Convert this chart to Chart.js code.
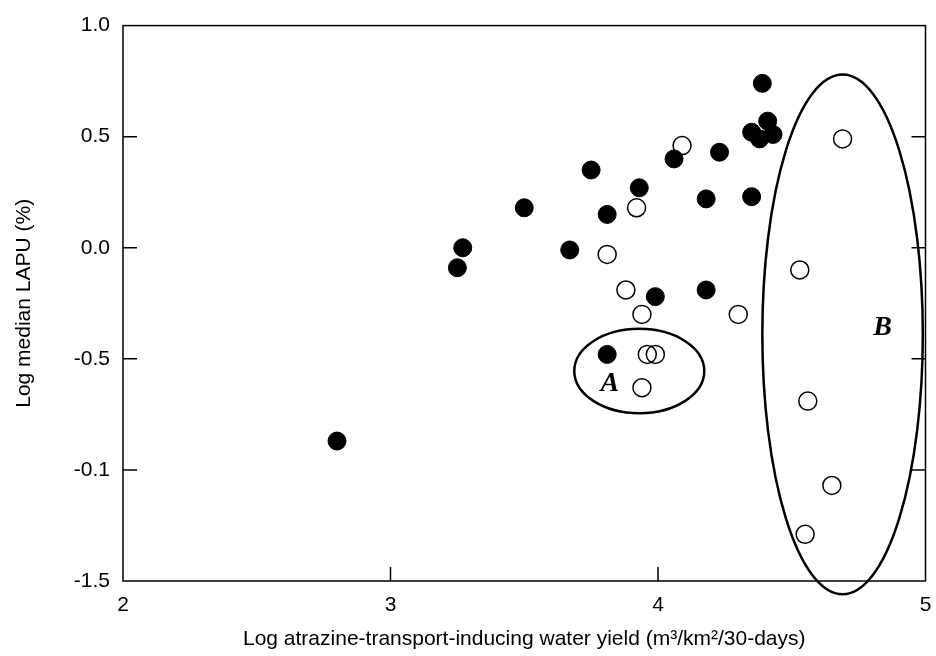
<!DOCTYPE html>
<html>
<head>
<meta charset="utf-8">
<script src="https://cdn.jsdelivr.net/npm/chart.js@4.4.1/dist/chart.umd.min.js"></script>
<style>
  html, body { margin: 0; padding: 0; background: #fff; }
  #wrap { width: 936px; height: 656px; }
</style>
</head>
<body>
<div id="wrap"><canvas id="myChart" width="936" height="656"></canvas></div>
<script>
// valores
var xTicks = [2, 3, 4, 5];
var yTickValues = [-1.5, -1.0, -0.5, 0.0, 0.5, 1.0];
var yTickLabels = ['-1.5', '-0.1', '-0.5', '0.0', '0.5', '1.0'];

// pontos cheios
var filledX = [2.80, 3.25, 3.27, 3.50, 3.67, 3.75, 3.81, 3.81, 3.93, 3.99, 4.06, 4.23, 4.18, 4.18, 4.35, 4.35, 4.38, 4.43, 4.41, 4.39];
var filledY = [-0.87, -0.09, 0.00, 0.18, -0.01, 0.35, 0.15, -0.48, 0.27, -0.22, 0.40, 0.43, 0.22, -0.19, 0.23, 0.52, 0.49, 0.51, 0.57, 0.74];

// pontos vazios
var openX = [4.09, 3.92, 3.81, 3.88, 3.94, 4.30, 3.96, 3.99, 3.94, 4.69, 4.53, 4.56, 4.65, 4.55];
var openY = [0.46, 0.18, -0.03, -0.19, -0.30, -0.30, -0.48, -0.48, -0.63, 0.49, -0.10, -0.69, -1.07, -1.29];

// grupos A e B (elipses)
var groupNames = ['A', 'B'];
var groupCx = [3.93, 4.69];
var groupCy = [-0.555, -0.39];
var groupRx = [0.243, 0.30];
var groupRy = [0.19, 1.17];
var groupLabelX = [3.82, 4.84];
var groupLabelY = [-0.61, -0.36];

var fonte = "'Liberation Sans', Arial, sans-serif";

function pares(xs, ys) {
    var out = [];
    for (var i = 0; i < xs.length; i++) out.push({ x: xs[i], y: ys[i] });
    return out;
}

// moldura + ticks para dentro
var moldura = {
    id: 'moldura',
    afterDraw: function (chart) {
        var ctx = chart.ctx;
        var a = chart.chartArea;
        var sx = chart.scales.x, sy = chart.scales.y;
        ctx.save();
        ctx.strokeStyle = '#000';
        ctx.lineWidth = 1.5;
        ctx.strokeRect(a.left, a.top, a.right - a.left, a.bottom - a.top);
        ctx.beginPath();
        yTickValues.forEach(function (v) {
            if (v === sy.min || v === sy.max) return;
            var py = sy.getPixelForValue(v);
            ctx.moveTo(a.left, py); ctx.lineTo(a.left + 14, py);
            ctx.moveTo(a.right, py); ctx.lineTo(a.right - 14, py);
        });
        xTicks.forEach(function (v) {
            if (v === sx.min || v === sx.max) return;
            var px = sx.getPixelForValue(v);
            ctx.moveTo(px, a.bottom); ctx.lineTo(px, a.bottom - 14);
        });
        ctx.stroke();

        // elipses
        ctx.lineWidth = 2.5;
        for (var i = 0; i < groupNames.length; i++) {
            var cx = sx.getPixelForValue(groupCx[i]);
            var cy = sy.getPixelForValue(groupCy[i]);
            var rx = Math.abs(sx.getPixelForValue(groupCx[i] + groupRx[i]) - cx);
            var ry = Math.abs(sy.getPixelForValue(groupCy[i] + groupRy[i]) - cy);
            ctx.beginPath();
            ctx.ellipse(cx, cy, rx, ry, 0, 0, Math.PI * 2);
            ctx.stroke();
            ctx.fillStyle = '#000';
            ctx.font = "italic bold 28px 'Liberation Serif', 'Times New Roman', serif";
            ctx.textAlign = 'center';
            ctx.textBaseline = 'middle';
            ctx.fillText(groupNames[i], sx.getPixelForValue(groupLabelX[i]), sy.getPixelForValue(groupLabelY[i]));
        }
        ctx.restore();
    }
};

var ctx = document.getElementById('myChart').getContext('2d');
var myChart = new Chart(ctx, {
    type: 'scatter',
    data: {
        datasets: [{
            label: 'cheio',
            data: pares(filledX, filledY),
            backgroundColor: '#000',
            borderColor: '#000',
            borderWidth: 1,
            pointRadius: 9
        }, {
            label: 'vazio',
            data: pares(openX, openY),
            backgroundColor: 'rgba(0,0,0,0)',
            borderColor: '#000',
            borderWidth: 1.5,
            pointRadius: 9
        }]
    },
    options: {
        responsive: false,
        animation: false,
        layout: { padding: { top: 23, right: 0, left: 0, bottom: 0 } },
        plugins: {
            legend: { display: false },
            tooltip: { enabled: false }
        },
        scales: {
            x: {
                type: 'linear',
                min: 2,
                max: 5,
                afterBuildTicks: function (scale) {
                    scale.ticks = xTicks.map(function (v) { return { value: v }; });
                },
                afterFit: function (scale) { scale.height = 75; scale.paddingRight = 9; },
                grid: { display: false, drawTicks: false },
                border: { display: false },
                ticks: {
                    color: '#000',
                    padding: 12,
                    maxRotation: 0,
                    font: { family: fonte, size: 21 },
                    callback: function (v) { return String(v); }
                },
                title: {
                    display: true,
                    text: 'Log atrazine-transport-inducing water yield (m³/km²/30-days)',
                    color: '#000',
                    font: { family: fonte, size: 21 },
                    padding: { top: 0, bottom: 4 }
                }
            },
            y: {
                type: 'linear',
                min: -1.5,
                max: 1.0,
                afterBuildTicks: function (scale) {
                    scale.ticks = yTickValues.map(function (v) { return { value: v }; });
                },
                afterFit: function (scale) { scale.width = 123; },
                grid: { display: false, drawTicks: false },
                border: { display: false },
                ticks: {
                    color: '#000',
                    padding: 13,
                    font: { family: fonte, size: 21 },
                    callback: function (v, i) { return yTickLabels[i]; }
                },
                title: {
                    display: true,
                    text: 'Log median LAPU (%)',
                    color: '#000',
                    font: { family: fonte, size: 21 },
                    padding: { top: 12, bottom: 0 }
                }
            }
        }
    },
    plugins: [moldura]
});
</script>
</body>
</html>
